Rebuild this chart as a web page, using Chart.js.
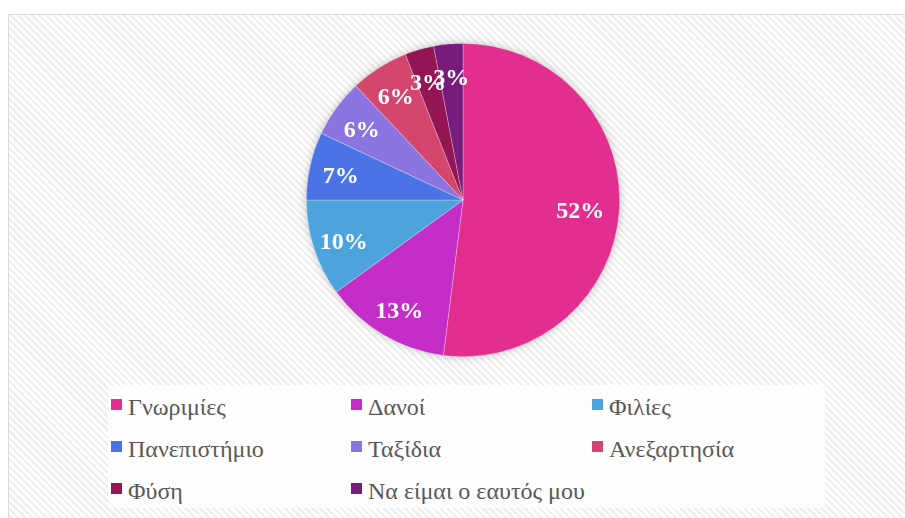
<!DOCTYPE html>
<html>
<head>
<meta charset="utf-8">
<script src="https://cdn.jsdelivr.net/npm/chart.js@4.4.0/dist/chart.umd.min.js"></script>
<style>
  body { margin:0; background:#fff; width:905px; height:518px; overflow:hidden; position:relative; }
  #frame { position:absolute; left:8px; top:14px; width:920px; height:520px; border:1px solid #d9d9d9;
    background: repeating-linear-gradient(45deg, #ffffff 0px, #ffffff 2.5px, #f0f0f0 2.5px, #f0f0f0 5px); }
  #wrap { position:absolute; left:0; top:0; width:905px; height:518px; }
  #legend { position:absolute; left:108px; top:385px; width:717px; height:123px; background:rgba(255,255,255,0.8); }
  .item { position:absolute; font-family:'Liberation Serif', serif; font-size:24px; color:#595959; white-space:nowrap; line-height:24px; }
  .item span.sq { display:inline-block; width:11px; height:11px; margin-right:6px; vertical-align:5px; }
</style>
</head>
<body>
<div id="frame"></div>
<div id="legend"></div>
<div id="wrap"><canvas id="mycanvas" width="905" height="518"></canvas></div>
<script>
var labels = ['Γνωριμίες','Δανοί','Φιλίες','Πανεπιστήμιο','Ταξίδια','Ανεξαρτησία','Φύση','Να είμαι ο εαυτός μου'];
var values = [52, 13, 10, 7, 6, 6, 3, 3];
var colors = ['#e22e8f','#c42dc8','#4da3dc','#4a74e6','#8b73e0','#d5466f','#931553','#781c7c'];

// legend in three columns
var legend = document.getElementById('legend');
var colX = [3, 243, 484];
var rowY = [10, 52, 94];
for (var i = 0; i < labels.length; i++) {
  var d = document.createElement('div');
  d.className = 'item';
  d.style.left = colX[i % 3] + 'px';
  d.style.top = rowY[Math.floor(i / 3)] + 'px';
  d.innerHTML = '<span class="sq" style="background:' + colors[i] + '"></span>' + labels[i];
  legend.appendChild(d);
}

var pieShadow = {
  id: 'pieShadow',
  beforeDatasetsDraw: function(chart) {
    var arc = chart.getDatasetMeta(0).data[0];
    var ctx = chart.ctx;
    ctx.save();
    ctx.shadowColor = 'rgba(0,0,0,0.3)';
    ctx.shadowBlur = 10;
    ctx.fillStyle = '#ffffff';
    ctx.beginPath();
    ctx.arc(arc.x, arc.y, arc.outerRadius - 1, 0, Math.PI * 2);
    ctx.fill();
    ctx.restore();
  }
};

var pctLabels = {
  id: 'pctLabels',
  afterDatasetsDraw: function(chart) {
    var ctx = chart.ctx;
    var meta = chart.getDatasetMeta(0);
    ctx.save();
    ctx.fillStyle = '#ffffff';
    ctx.font = 'bold 24px "Liberation Serif"';
    ctx.textAlign = 'center';
    ctx.textBaseline = 'middle';
    meta.data.forEach(function(a, i) {
      var mid = (a.startAngle + a.endAngle) / 2;
      var r = a.outerRadius * (i === 0 ? 0.75 : 0.8);
      ctx.fillText(values[i] + '%', a.x + Math.cos(mid) * r, a.y + 4 + Math.sin(mid) * r);
    });
    ctx.restore();
  }
};

function draw() {
  var ctx = document.getElementById('mycanvas');
  var pieChart = new Chart(ctx, {
    type: 'pie',
    data: {
      labels: labels,
      datasets: [{
        data: values,
        backgroundColor: colors,
        borderColor: 'rgba(255,255,255,0.35)',
        borderWidth: 0.75
      }]
    },
    options: {
      responsive: false,
      animation: false,
      layout: { padding: { left: 306, right: 285, top: 43, bottom: 161 } },
      plugins: {
        legend: { display: false },
        tooltip: { enabled: false }
      }
    },
    plugins: [pieShadow, pctLabels]
  });
}

document.fonts.load('bold 24px "Liberation Serif"').then(draw, draw);
</script>
</body>
</html>
